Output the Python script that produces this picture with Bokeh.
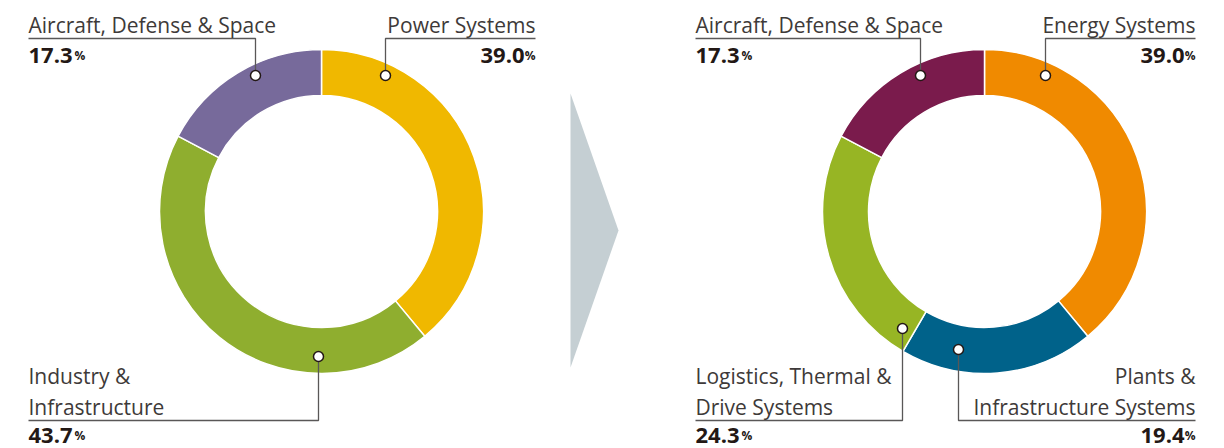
import numpy as np
from bokeh.plotting import figure
from bokeh.models import Range1d, ColumnDataSource
from bokeh.core.properties import value
from bokeh.embed import file_html
from bokeh.resources import INLINE

# ---- data ----
left_categories = ["Power Systems", "Industry & Infrastructure", "Aircraft, Defense & Space"]
left_values = [39.0, 43.7, 17.3]
left_colors = ["#F0B800", "#8FAE2F", "#776A9B"]

right_categories = ["Energy Systems", "Plants & Infrastructure Systems",
                    "Logistics, Thermal & Drive Systems", "Aircraft, Defense & Space"]
right_values = [39.0, 19.4, 24.3, 17.3]
right_colors = ["#F08A00", "#00628A", "#97B524", "#7A1B4C"]

W, H = 1224, 448
p = figure(width=W, height=H, output_backend="svg", toolbar_location=None,
           x_range=Range1d(0, W), y_range=Range1d(0, H),
           min_border=0)
p.axis.visible = False
p.grid.visible = False
p.outline_line_color = None
p.background_fill_color = "white"
p.border_fill_color = "white"

def Y(s):
    return H - s

R_OUT, R_IN = 162, 116
LINE_C = "#595757"
TXT_C = "#3E3A39"
NUM_C = "#231815"
FONT = value("Open Sans")

def donut(cx, cy, vals, cols):
    vals = np.array(vals)
    frac = vals / vals.sum() * 2 * np.pi
    ends = np.pi / 2 - np.cumsum(frac)
    starts = ends + frac
    src = ColumnDataSource(dict(x=[cx] * len(vals), y=[cy] * len(vals),
                                start=ends, end=starts, color=cols))
    p.annular_wedge(x="x", y="y", inner_radius=R_IN, outer_radius=R_OUT,
                    start_angle="start", end_angle="end", fill_color="color",
                    line_color="white", line_width=1.5, source=src)

donut(321, Y(211), left_values, left_colors)
donut(984, Y(211), right_values, right_colors)

# arrow
p.patch(x=[570, 618, 570], y=[Y(93), Y(230), Y(367)], fill_color="#C5CFD3", line_color=None)

def label(lines, num, anchor, corner_x, line_y, text_x, align, top):
    ax, ay = anchor
    # leader
    p.line(x=[ax, ax, corner_x], y=[Y(ay), Y(line_y), Y(line_y)],
           line_color=LINE_C, line_width=1.3)
    p.scatter(x=[ax], y=[Y(ay)], size=10, marker="circle", fill_color="white",
              line_color=NUM_C, line_width=1.5)
    # text lines
    if top:
        bases = [line_y - 14]
    else:
        bases = [line_y - 14 - 31 * (len(lines) - 1 - i) for i in range(len(lines))]
    for t, b in zip(lines, bases):
        p.text(x=[text_x], y=[Y(b)], text=[t], text_font=FONT, text_font_size="21px",
               text_color=TXT_C, text_align=align, text_baseline="alphabetic")
    nb = line_y + (17 if top else 15)
    s = f"{num:.1f}"
    if align == "left":
        p.text(x=[text_x], y=[Y(nb)], text=[s], text_font=FONT, text_font_size="22px",
               text_font_style="bold", text_color=NUM_C, text_align="left",
               text_baseline="alphabetic")
        p.text(x=[text_x + 46], y=[Y(nb)], text=["%"], text_font=FONT, text_font_size="12px",
               text_font_style="bold", text_color=NUM_C, text_align="left",
               text_baseline="alphabetic")
    else:
        p.text(x=[text_x], y=[Y(nb)], text=["%"], text_font=FONT, text_font_size="12px",
               text_font_style="bold", text_color=NUM_C, text_align="right",
               text_baseline="alphabetic")
        p.text(x=[text_x - 11], y=[Y(nb)], text=[s], text_font=FONT, text_font_size="22px",
               text_font_style="bold", text_color=NUM_C, text_align="right",
               text_baseline="alphabetic")

# left donut labels
label(["Aircraft, Defense & Space"], left_values[2], (255, 75), 28, 38, 28, "left", True)
label(["Power Systems"], left_values[0], (385, 75), 535, 38, 535, "right", True)
label(["Industry &", "Infrastructure"], left_values[1], (318, 356), 28, 420, 28, "left", False)

# right donut labels
label(["Aircraft, Defense & Space"], right_values[3], (920, 75), 695, 38, 695, "left", True)
label(["Energy Systems"], right_values[0], (1045, 75), 1195, 38, 1195, "right", True)
label(["Logistics, Thermal &", "Drive Systems"], right_values[2], (902, 328), 695, 420, 695, "left", False)
label(["Plants &", "Infrastructure Systems"], right_values[1], (958, 349), 1195, 420, 1195, "right", False)

open("out.html", "w").write(file_html(p, INLINE))
